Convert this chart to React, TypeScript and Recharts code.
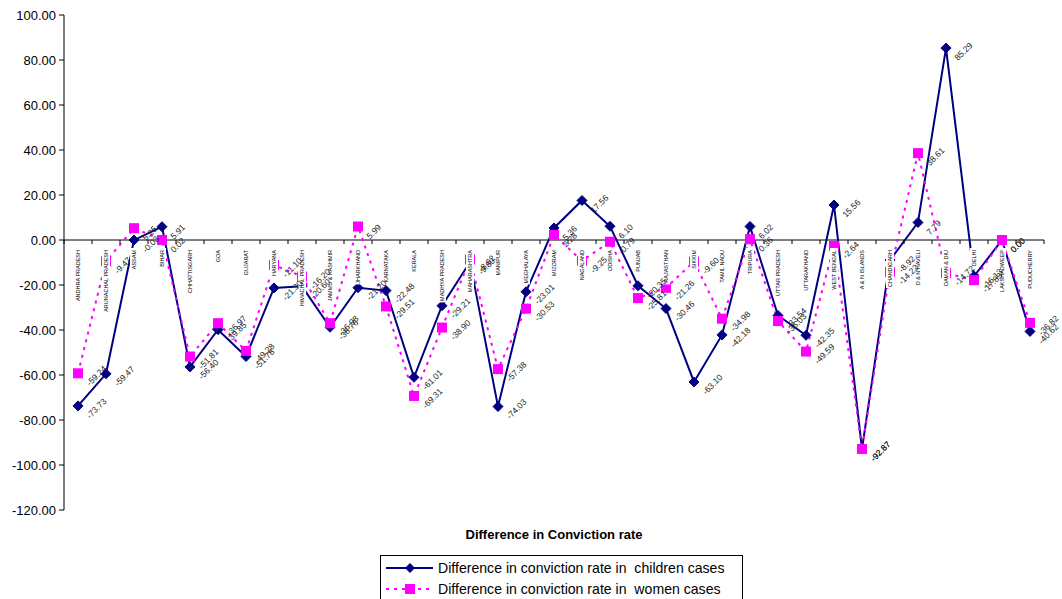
import { LineChart, Line, XAxis, YAxis, ReferenceLine, ReferenceDot, LabelList } from 'recharts';

const states = [
  'ANDHRA PRADESH', 'ARUNACHAL PRADESH', 'ASSAM', 'BIHAR', 'CHHATTISGARH', 'GOA', 'GUJARAT',
  'HARYANA', 'HIMACHAL PRADESH', 'JAMMU & KASHMIR', 'JHARKHAND', 'KARNATAKA', 'KERALA',
  'MADHYA PRADESH', 'MAHARASHTRA', 'MANIPUR', 'MEGHALAYA', 'MIZORAM', 'NAGALAND', 'ODISHA',
  'PUNJAB', 'RAJASTHAN', 'SIKKIM', 'TAMIL NADU', 'TRIPURA', 'UTTAR PRADESH', 'UTTARAKHAND',
  'WEST BENGAL', 'A & N ISLANDS', 'CHANDIGARH', 'D & N HAVELI', 'DAMAN & DIU', 'DELHI',
  'LAKSHADWEEP', 'PUDUCHERRY',
];

const childrenDiff = [
  -73.73, -59.47, -0.03, 5.91, -56.4, -39.85, -51.78, -21.3, -20.6, -38.76, -21.2, -22.48,
  -61.01, -29.21, -9.8, -74.03, -23.01, 5.36, 17.56, 6.1, -20.35, -30.46, -63.1, -42.18,
  6.02, -33.54, -42.35, 15.56, -92.87, -8.92, 7.79, 85.29, -16.13, 0.0, -40.62,
];

const womenDiff = [
  -59.24, -9.47, 5.25, 0.02, -51.81, -36.97, -49.28, -11.1, -16.2, -36.98, 5.99, -29.51,
  -69.31, -38.9, -8.62, -57.38, -30.53, 2.28, -9.25, -0.79, -25.81, -21.26, -9.6, -34.98,
  0.36, -36.03, -49.59, -2.64, -92.87, -14.22, 38.61, -14.72, -17.83, 0.0, -36.82,
];

const yTicks = [-120, -100, -80, -60, -40, -20, 0, 20, 40, 60, 80, 100];

const data = states.map((state, i) => ({
  state,
  children: childrenDiff[i],
  women: womenDiff[i],
}));

const NAVY = '#000080';
const PINK = '#FF00FF';
const FONT = "Arial, 'Liberation Sans', sans-serif";
const STEP = 28;

const Diamond = (props: any) => {
  const { cx, cy } = props;
  if (cx == null || cy == null) return null;
  return (
    <polygon
      points={`${cx},${cy - 5} ${cx + 5},${cy} ${cx},${cy + 5} ${cx - 5},${cy}`}
      fill={NAVY}
      stroke={NAVY}
    />
  );
};

const Square = (props: any) => {
  const { cx, cy } = props;
  if (cx == null || cy == null) return null;
  return <rect x={cx - 5} y={cy - 5} width={10} height={10} fill={PINK} />;
};

const ValueLabel = (props: any) => {
  const x = props.x ?? props.viewBox?.x;
  const y = props.y ?? props.viewBox?.y;
  if (x == null || y == null || props.value == null) return null;
  const tx = x + 12;
  const ty = y + 13;
  return (
    <text
      x={tx}
      y={ty}
      transform={`rotate(-45 ${tx} ${ty})`}
      fontSize={8.5}
      fontFamily={FONT}
      fill="#222"
    >
      {Number(props.value).toFixed(2)}
    </text>
  );
};

const CategoryTick = (props: any) => {
  const { cx, cy, name, last } = props;
  if (cx == null || cy == null) return null;
  const len = name.length * 3.6;
  const ay = cy + 10;
  return (
    <g>
      <line x1={cx - STEP / 2} x2={cx - STEP / 2} y1={cy} y2={cy + 4} stroke="#000" />
      {last && <line x1={cx + STEP / 2} x2={cx + STEP / 2} y1={cy} y2={cy + 4} stroke="#000" />}
      <rect x={cx - 4} y={ay - 2} width={8} height={len + 4} fill="#fff" />
      <text
        x={cx}
        y={ay}
        dy="0.35em"
        transform={`rotate(-90 ${cx} ${ay})`}
        textAnchor="end"
        fontSize={5.5}
        fontFamily={FONT}
        fill="#000"
      >
        {name}
      </text>
    </g>
  );
};

const LegendRow = ({ color, dashed, square, text }: any) => (
  <div style={{ display: 'flex', alignItems: 'center', height: 21 }}>
    <svg width={50} height={12} style={{ marginLeft: 4, marginRight: 3 }}>
      <line
        x1={1}
        x2={48}
        y1={6}
        y2={6}
        stroke={color}
        strokeWidth={2}
        strokeDasharray={dashed ? '3 5' : undefined}
      />
      {square ? (
        <rect x={20} y={1} width={10} height={10} fill={color} />
      ) : (
        <polygon points="25,1 30,6 25,11 20,6" fill={color} />
      )}
    </svg>
    <span style={{ whiteSpace: 'pre' }}>{text}</span>
  </div>
);

export default function App() {
  return (
    <div
      style={{
        position: 'absolute',
        left: 0,
        top: 0,
        width: 1062,
        height: 599,
        background: '#fff',
        overflow: 'hidden',
        fontFamily: FONT,
      }}
    >
      <LineChart
        width={1062}
        height={599}
        data={data}
        margin={{ top: 15, right: 18, bottom: 89, left: 0 }}
      >
        <XAxis dataKey="state" type="category" scale="point" padding={{ left: 14, right: 14 }} hide />
        <YAxis
          domain={[-120, 100]}
          ticks={yTicks}
          interval={0}
          width={64}
          tickFormatter={(v: number) => v.toFixed(2)}
          tick={{ fontSize: 13, fill: '#000', fontFamily: FONT }}
          tickSize={5}
          tickMargin={3}
          axisLine={{ stroke: '#000' }}
          tickLine={{ stroke: '#000' }}
        />
        <ReferenceLine y={0} stroke="#000" />
        <Line
          dataKey="children"
          stroke={NAVY}
          strokeWidth={2}
          dot={<Diamond />}
          activeDot={false}
          isAnimationActive={false}
        >
          <LabelList dataKey="children" content={<ValueLabel />} />
        </Line>
        <Line
          dataKey="women"
          stroke={PINK}
          strokeWidth={2}
          strokeDasharray="3 5"
          dot={<Square />}
          activeDot={false}
          isAnimationActive={false}
        >
          <LabelList dataKey="women" content={<ValueLabel />} />
        </Line>
        {states.map((s, i) => (
          <ReferenceDot
            key={s}
            x={s}
            y={0}
            r={0}
            shape={(p: any) => <CategoryTick {...p} name={s} last={i === states.length - 1} />}
          />
        ))}
      </LineChart>
      <div
        style={{
          position: 'absolute',
          left: 0,
          width: 1108,
          top: 527,
          textAlign: 'center',
          fontWeight: 'bold',
          fontSize: 13,
        }}
      >
        Difference in Conviction rate
      </div>
      <div
        style={{
          position: 'absolute',
          left: 380,
          top: 555,
          width: 361,
          height: 50,
          border: '1px solid #000',
          fontSize: 14.1,
          paddingTop: 1,
        }}
      >
        <LegendRow color={NAVY} text="Difference in conviction rate in  children cases" />
        <LegendRow color={PINK} dashed square text="Difference in conviction rate in  women cases" />
      </div>
    </div>
  );
}
